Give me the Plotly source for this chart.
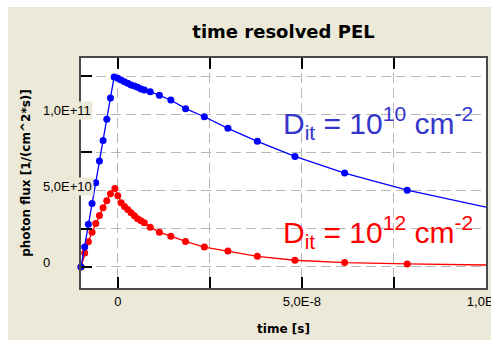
import plotly.graph_objects as go

# ---- data (time in s, photon flux in 1/(cm^2*s)) ----
t_blue_ns = [-10, -9, -8, -7, -6, -5, -4, -3, -2, -1,
             0, 0.9, 1.8, 2.7, 3.6, 4.5, 5.4, 6.3, 7.2, 8.8,
             11.3, 14.4, 18.4, 23.5, 29.9, 37.9, 48.1, 61.6, 78.6, 100]
flux_blue_e10 = [0, 1.31, 2.80, 4.16, 5.51, 6.94, 8.29, 9.67, 11.07, 12.45,
                 12.36, 12.25, 12.14, 12.03, 11.92, 11.85, 11.77, 11.66, 11.59, 11.48,
                 11.25, 10.94, 10.37, 9.84, 9.08, 8.23, 7.24, 6.15, 5.03, 3.92]

t_red_ns = [-10, -9, -8, -7, -6, -5, -4, -3, -2, -0.8,
            0, 0.9, 1.8, 2.7, 3.6, 4.5, 5.4, 6.3, 7.2, 8.8,
            11.3, 14.4, 18.4, 23.5, 29.9, 37.9, 48.1, 61.6, 78.6, 100]
flux_red_e10 = [0, 0.92, 1.65, 2.28, 2.85, 3.37, 3.88, 4.34, 4.80, 5.14,
                4.67, 4.20, 3.96, 3.77, 3.56, 3.36, 3.16, 3.03, 2.89, 2.61,
                2.28, 2.02, 1.67, 1.30, 1.05, 0.70, 0.44, 0.29, 0.20, 0.13]

x_tick_vals = [0, 5e-8, 1e-7]
x_tick_text = ["0", "5,0E-8", "1,0E-7"]
x_minor_vals = [2.5e-8, 7.5e-8]
y_tick_vals = [0, 5e10, 1e11]
y_tick_text = ["0", "5,0E+10", "1,0E+11"]
y_minor_vals = [2.5e10, 7.5e10, 1.25e11]

title_text = "time resolved PEL"
x_title = "time [s]"
y_title = "photon flux [1/(cm^2*s)]"
label_blue = "D<sub>it</sub> = 10<sup>10</sup> cm<sup>-2</sup>"
label_red = "D<sub>it</sub> = 10<sup>12</sup> cm<sup>-2</sup>"

t_blue = [v * 1e-9 for v in t_blue_ns]
t_red = [v * 1e-9 for v in t_red_ns]
flux_blue = [v * 1e10 for v in flux_blue_e10]
flux_red = [v * 1e10 for v in flux_red_e10]

BEIGE = "#ECE9D8"
FONT = "Liberation Sans, Arial, sans-serif"
BOLDFONT = "DejaVu Sans, Verdana, sans-serif"

fig = go.Figure()
fig.add_trace(go.Scatter(x=t_red, y=flux_red, mode="lines+markers",
                         line=dict(color="#FF0000", width=1.3),
                         marker=dict(color="#FF0000", size=7),
                         cliponaxis=False, showlegend=False))
fig.add_trace(go.Scatter(x=t_blue, y=flux_blue, mode="lines+markers",
                         line=dict(color="#0000FF", width=1.3),
                         marker=dict(color="#0000FF", size=7),
                         cliponaxis=False, showlegend=False))

GRIDCOL = "#B8B8B8"
grid = dict(showgrid=True, gridcolor=GRIDCOL, gridwidth=1.3, griddash="10px,5px")
axis_common = dict(showline=True, linecolor="#4A4A4A", linewidth=2,
                   ticks="inside", ticklen=11, tickwidth=1.5, tickcolor="#000000",
                   zeroline=False, automargin=False, **grid)

def minor(vals):
    return dict(tickmode="array", tickvals=vals, ticks="inside", ticklen=11,
                tickwidth=1.5, tickcolor="#000000", showgrid=True,
                gridcolor=GRIDCOL, gridwidth=1.3, griddash="10px,5px")

fig.update_layout(
    width=491, height=340,
    margin=dict(l=81, r=5, t=58, b=52, autoexpand=False),
    paper_bgcolor=BEIGE, plot_bgcolor="#FFFFFF",
    font=dict(family=FONT, size=12, color="#000000"),
    title=dict(text="<b>" + title_text + "</b>", x=0.5, xref="paper",
               y=1 - 32 / 340, yanchor="middle", automargin=False,
               font=dict(family=BOLDFONT, size=18, color="#000000")),
    xaxis=dict(range=[-1e-8, 1e-7], tickmode="array", tickvals=x_tick_vals,
               ticktext=x_tick_text, mirror="ticks", ticklabeloverflow="allow",
               minor=minor(x_minor_vals),
               tickfont=dict(size=13, family=FONT),
               title=dict(text="<b>" + x_title + "</b>", standoff=17,
                          font=dict(size=12, family=BOLDFONT)),
               **axis_common),
    yaxis=dict(range=[-1.378e10, 1.369e11], tickmode="array", tickvals=y_tick_vals,
               ticktext=y_tick_text, mirror=True, showticklabels=False,
               minor=minor(y_minor_vals),
               title=dict(text="<b>" + y_title + "</b>", standoff=46,
                          font=dict(size=12, family=BOLDFONT)),
               **axis_common),
)

# y tick labels (left aligned as in the original, with a beige box)
for v, txt in zip(y_tick_vals, y_tick_text):
    fig.add_annotation(x=-0.099, xref="paper", xanchor="left",
                       y=v, yref="y", yanchor="middle", yshift=4,
                       text=txt, showarrow=False, bgcolor=BEIGE,
                       borderpad=1, font=dict(size=13, family=FONT, color="#000000"))

fig.add_annotation(x=0.733, xref="paper", y=0.717, yref="paper",
                   xanchor="center", yanchor="middle", text=label_blue,
                   showarrow=False, font=dict(size=30, family=FONT, color="#3535CC"))
fig.add_annotation(x=0.733, xref="paper", y=0.245, yref="paper",
                   xanchor="center", yanchor="middle", text=label_red,
                   showarrow=False, font=dict(size=30, family=FONT, color="#FF0000"))

# white strips at the top and left border of the picture
pw, ph = 405.0, 230.0
fig.add_shape(type="rect", xref="paper", yref="paper", layer="above",
              x0=-81 / pw, x1=(8 - 81) / pw, y0=-52 / ph, y1=1 + 58 / ph,
              fillcolor="#FFFFFF", line=dict(width=0))
fig.add_shape(type="rect", xref="paper", yref="paper", layer="above",
              x0=-81 / pw, x1=1 + 5 / pw, y0=1 + 51 / ph, y1=1 + 58 / ph,
              fillcolor="#FFFFFF", line=dict(width=0))

fig.write_html("out.html")
